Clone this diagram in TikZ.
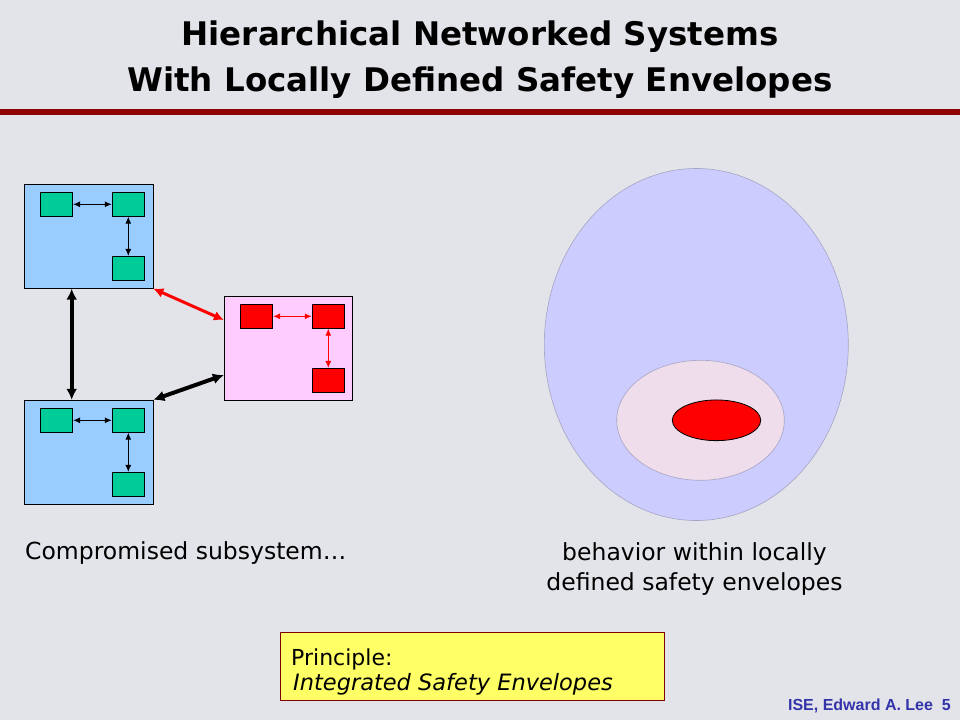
\documentclass[tikz,border=0pt]{standalone}
\usepackage{fontspec}
\setmainfont{DejaVu Sans}
\newfontfamily\footfont{Liberation Sans}
\usetikzlibrary{arrows.meta,shapes.geometric}
\definecolor{bgc}{RGB}{227,228,233}
\definecolor{rulec}{RGB}{140,0,0}
\definecolor{bluebox}{RGB}{153,204,255}
\definecolor{greenbox}{RGB}{0,204,153}
\definecolor{pinkbox}{RGB}{255,204,255}
\definecolor{redc}{RGB}{255,0,0}
\definecolor{bigell}{RGB}{204,204,255}
\definecolor{ellline}{RGB}{165,165,195}
\definecolor{midell}{RGB}{240,221,236}
\definecolor{yellowc}{RGB}{255,255,102}
\definecolor{yborder}{RGB}{128,0,0}
\definecolor{footc}{RGB}{51,51,170}
\begin{document}
\begin{tikzpicture}[x=1pt,y=-1pt,
  outerbox/.style={draw=black,line width=0.8pt,minimum width=129pt,minimum height=104pt,inner sep=0pt},
  smallbox/.style={draw=black,line width=0.7pt,minimum width=32.4pt,minimum height=24pt,inner sep=0pt},
  thinarrow/.style={line width=1pt,{Latex[length=7pt,width=6pt]}-{Latex[length=7pt,width=6pt]}},
  thickarrow/.style={line width=4pt,{Latex[length=11pt,width=11pt]}-{Latex[length=11pt,width=11pt]}},
  redarrow/.style={line width=3pt,draw=redc,{Latex[length=10pt,width=10pt]}-{Latex[length=10pt,width=10pt]}},
  titletext/.style={anchor=base,inner sep=0pt,font=\fontsize{32.5}{38}\selectfont\bfseries},
  bodytext/.style={font=\fontsize{23.5}{28}\selectfont,inner sep=0pt},
  ell/.style={ellipse,inner sep=0pt}]
\fill[bgc] (0,0) rectangle (960,720);
\useasboundingbox (0,0) rectangle (960,720);
% title
\node[titletext] (t1) at (480,45) {Hierarchical Networked Systems};
\node[titletext] (t2) at (480,91.7) {With Locally Defined Safety Envelopes};
\fill[rulec] (0,108.5) rectangle (960,114.5);
% top-left subsystem
\node[outerbox,fill=bluebox] (A) at (88.5,236.3) {};
\node[smallbox,fill=greenbox] (A1) at (56.5,204.3) {};
\node[smallbox,fill=greenbox] (A2) at (128.3,204.3) {};
\node[smallbox,fill=greenbox] (A3) at (128.3,268.3) {};
\draw[thinarrow] (A1) -- (A2);
\draw[thinarrow] (A2) -- (A3);
% bottom-left subsystem
\node[outerbox,fill=bluebox] (B) at (88.5,452.2) {};
\node[smallbox,fill=greenbox] (B1) at (56.5,420.3) {};
\node[smallbox,fill=greenbox] (B2) at (128.3,420.3) {};
\node[smallbox,fill=greenbox] (B3) at (128.3,484.3) {};
\draw[thinarrow] (B1) -- (B2);
\draw[thinarrow] (B2) -- (B3);
% compromised subsystem
\node[outerbox,fill=pinkbox,minimum width=128pt] (P) at (288.3,348.3) {};
\node[smallbox,fill=redc] (P1) at (256.5,316.3) {};
\node[smallbox,fill=redc] (P2) at (328.3,316.3) {};
\node[smallbox,fill=redc] (P3) at (328.3,380.3) {};
\draw[thinarrow,draw=redc] (P1) -- (P2);
\draw[thinarrow,draw=redc] (P2) -- (P3);
% links between subsystems
\draw[thickarrow] ([xshift=-16.8pt]A.south) -- ([xshift=-16.8pt]B.north);
\draw[redarrow] (A.south east) -- ([yshift=28.3pt]P.west);
\draw[thickarrow] (B.north east) -- ([yshift=-26.7pt]P.west);
% envelopes
\node[ell,fill=bigell,draw=ellline,line width=0.6pt,minimum width=304pt,minimum height=352pt] (E1) at (696.3,344.5) {};
\node[ell,fill=midell,draw=ellline,line width=0.6pt,minimum width=167.6pt,minimum height=120pt] (E2) at (700.5,420.3) {};
\node[ell,fill=redc,draw=black,line width=0.8pt,minimum width=88.4pt,minimum height=40.7pt] (E3) at (716.5,420.3) {};
% captions
\node[bodytext,anchor=base west] (c1) at (25,559) {Compromised subsystem…};
\node[bodytext,anchor=base] (c2) at (694.5,560) {behavior within locally};
\node[bodytext,anchor=base] (c3) at (694.5,590) {defined safety envelopes};
% principle box
\draw[fill=yellowc,draw=yborder,line width=0.8pt] (280,632.7) rectangle (664.3,700.3);
\node[inner sep=0pt,anchor=base west,font=\fontsize{22}{26}\selectfont] (p1) at (291,665) {Principle:};
\node[inner sep=0pt,anchor=base west,font=\fontsize{22.5}{26}\selectfont\itshape] (p2) at (293,690) {Integrated Safety Envelopes};
% footer
\node[inner sep=0pt,anchor=base east,text=footc,font=\footfont\fontsize{16}{18}\selectfont\bfseries] (f) at (951,710) {ISE, Edward A. Lee\ \ 5};
\end{tikzpicture}
\end{document}
